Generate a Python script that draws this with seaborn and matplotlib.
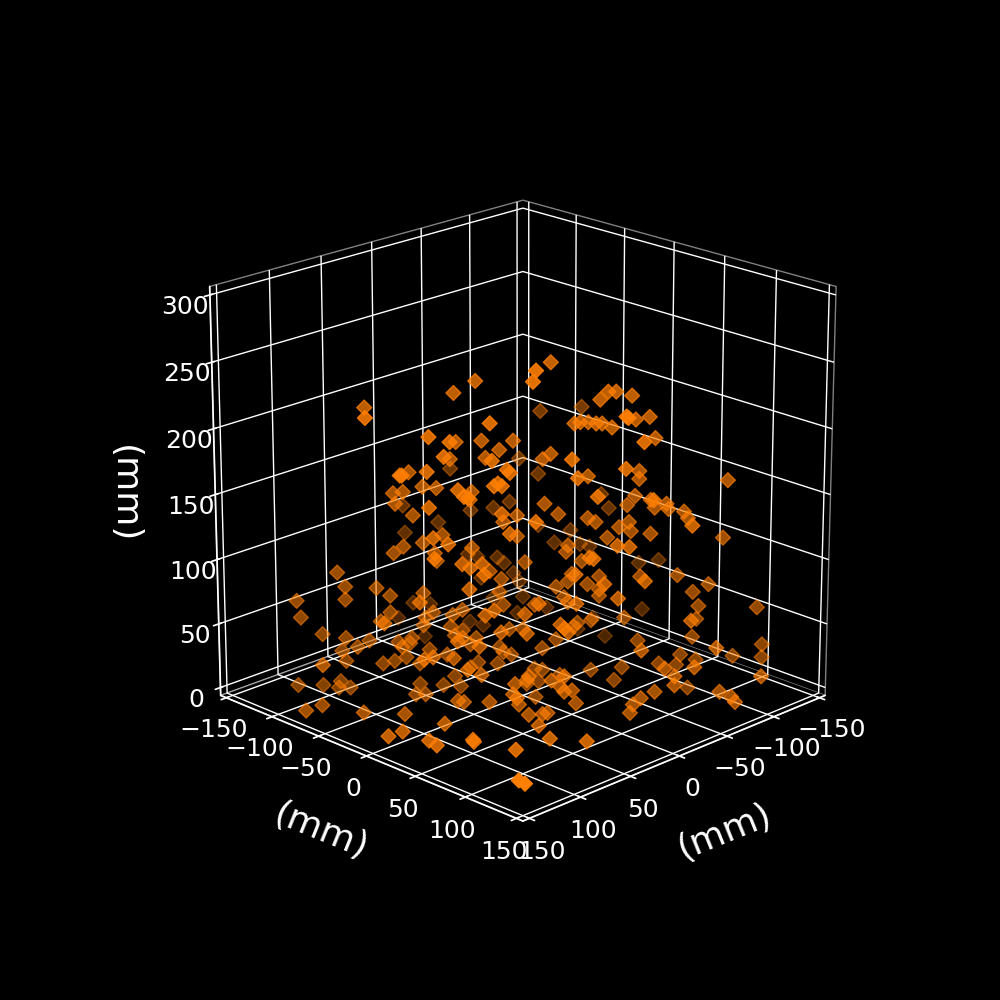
import matplotlib
matplotlib.use('Agg')
import matplotlib.pyplot as plt
import seaborn as sns

# marker positions (mm)
x = [80,109,35,24,47,78,67,34,21,5,12,19,46,70,37,-59,-23,38,37,92,91,58,79,51,44,45,43,41,66,61,
     63,60,58,26,27,65,2,78,56,-34,-46,-54,41,3,10,-18,0,76,41,51,68,37,3,61,66,26,45,75,44,-33,
     -38,-49,51,-52,-1,61,57,17,50,-57,11,-40,95,91,75,51,58,-60,
     -14,24,26,-43,-47,-55,-39,-92,-70,-26,-29,-33,-37,-40,-45,-21,-22,-57,-64,-30,-67,-14,-10,6,-69,3,-33,-21,-59,-59,
     -104,-102,-7,-57,-53,-106,-65,-36,-67,-73,-74,-82,-84,-55,-11,-18,-33,-37,24,-70,-49,-54,-55,-65,-102,-87,-43,-79,-23,-22,
     -92,-97,-17,-23,-30,-3,-5,-123,-134,-25,4,-39,-60,-31,-79,-95,-17,-23,-33,-10,-39,-87,
     116,114,103,91,68,68,73,101,4,-4,83,-13,46,50,51,36,31,12,-47,10,46,50,-59,30,-62,37,-34,-41,42,7,0,29,31,35,31,64,24,27,53,
     91,85,93,79,91,133,64,62,57,58,-10,48,72,66,60,53,81,77,39,66,12,10,6,23,13,59,27,35,52,32,41,53,35,29,116,103,94,95,89,
     64,59,36,34,33,64,61,48,141,126,114,95,33,87,131,118,116,118,95,93,84,120,121,
     -39,-17,-90,-54,-89,-120,-125,-21,-23,4,23,-6,-75,-35,-99,-52,-28,-26,-91,12,10,8,-17,-106,-59,-29,-87,-67,-108,-123,-123,-90,
     -10,-81,-89,-70,-41,-79,-56,-51,-35,-47,-46,-46,-85,-36,-69,-75,-77,-29,-25,-21,4,6,10,12,10,-19,17,-8,-10,-6,28,-2,6,25,21,42,53,38]
y = [-80,-48,-35,-24,14,-16,-6,-34,-21,-5,-12,-19,15,-9,-37,-63,-99,22,24,-31,-30,-58,-17,-51,-44,16,18,20,-66,-61,
     -2,1,3,-26,-27,-65,-124,-16,-56,-89,-77,-68,20,-3,-10,-107,-124,-14,-41,-51,-7,24,-3,-61,-66,-26,-45,-14,-44,-91,
     -86,-76,10,-72,1,0,4,-17,11,-67,-11,-84,-95,-91,-75,-51,4,-64,
     14,37,36,43,47,55,39,-31,-52,26,29,33,37,40,45,82,83,57,64,91,67,14,10,55,-53,58,33,82,59,59,
     104,-20,68,57,53,-16,65,95,67,73,74,82,84,115,11,18,33,37,37,-54,49,54,55,65,102,-37,43,-46,23,22,
     -32,-27,78,84,30,64,66,-1,9,25,57,39,60,92,79,95,17,23,33,72,39,87,
     -116,-114,-103,-91,-68,-68,-73,-39,-128,-120,-21,-111,-46,-50,-51,-36,-31,-12,-78,-10,17,12,-65,32,-62,-37,-90,-83,20,-7,0,33,-31,-35,-31,-2,-24,-27,9,
     -91,-85,-93,-79,-91,-70,-64,-62,-57,-58,-114,-48,-72,-66,-60,-53,-19,-14,-39,-4,-12,-10,-6,-23,-13,3,-27,-35,10,-32,-41,-53,27,33,-116,-103,-94,-95,-89,
     -46,-41,26,28,29,-2,1,14,-80,-79,-48,-25,39,8,-4,-3,22,32,46,43,77,116,123,
     39,79,90,116,89,120,1,21,23,58,39,6,-50,35,-25,52,28,26,-33,50,52,54,17,-19,59,91,87,129,108,123,123,152,
     10,81,89,70,103,79,118,51,35,47,108,108,85,98,131,137,139,91,87,88,58,56,52,50,52,19,46,8,10,6,34,2,19,45,46,58,80,102]
z = [216,223,227,236,219,209,205,190,191,191,184,178,191,194,177,147,139,184,182,180,180,167,183,156,155,172,174,172,151,152,
     169,164,163,152,146,143,110,156,134,106,108,113,151,134,129,96,88,133,119,113,128,136,118,110,105,109,105,117,99,71,
     69,68,113,64,98,113,110,91,105,56,85,52,90,79,78,74,94,49,
     250,258,250,228,228,225,222,187,184,204,205,205,204,204,201,224,223,207,209,205,193,181,177,192,135,178,164,185,168,162,
     161,119,164,149,142,108,146,161,140,143,139,137,132,142,143,135,132,129,145,94,125,129,122,120,117,90,117,80,111,106,
     79,77,127,126,99,118,117,64,66,89,105,87,87,100,88,81,79,83,81,98,77,75,
     68,55,42,69,72,59,52,68,20,32,84,31,59,55,49,57,61,75,36,65,78,74,24,75,37,48,17,14,61,46,46,60,45,41,39,54,39,34,50,
     39,32,29,37,21,36,36,32,39,35,5,30,19,21,24,19,40,42,26,41,32,28,26,20,19,32,16,9,28,1,2,3,21,24,2,2,5,0,0,
     0,0,13,10,5,8,7,7,0,0,0,0,0,0,0,0,0,0,0,0,0,0,0,
     72,87,64,70,54,63,27,71,67,83,83,65,28,53,20,55,51,48,11,67,64,61,38,5,37,47,40,49,25,34,24,27,
     31,26,22,19,33,18,34,16,14,6,27,20,0,15,15,11,7,10,5,0,6,16,15,19,27,10,24,5,14,15,27,3,0,0,0,0,0,0]

n = min(len(x), len(y), len(z))

limit_ticks = [-150, -100, -50, 0, 50, 100, 150]
height_ticks = [0, 50, 100, 150, 200, 250, 300]

sns.set_theme(style='white', rc={'figure.facecolor': 'black', 'axes.facecolor': 'black',
                                 'text.color': 'white', 'xtick.color': 'white', 'ytick.color': 'white',
                                 'axes.labelcolor': 'white', 'axes.edgecolor': 'white',
                                 'grid.color': 'white', 'grid.linewidth': 1.0, 'font.family': 'DejaVu Sans',
                                 'axes3d.automargin': True})
orange = sns.color_palette(['#ff7f00'])[0]

fig = plt.figure(figsize=(10, 10), dpi=100)
ax = fig.add_subplot(projection='3d')
ax.view_init(elev=20, azim=45)
ax.set_box_aspect((1, 1, 1), zoom=0.95)

ax.scatter(x[:n], y[:n], z[:n], marker='D', s=58, color=orange, depthshade=True)

ax.set_xlim(-150, 150)
ax.set_ylim(-150, 150)
ax.set_zlim(0, 300)
ax.set_xticks(limit_ticks)
ax.set_yticks(limit_ticks)
ax.set_zticks(height_ticks)
ax.tick_params(labelsize=18, colors='white')
ax.set_xlabel('(mm)', fontsize=26, labelpad=20, rotation=22)
ax.set_ylabel('(mm)', fontsize=26, labelpad=20, rotation=-22)
ax.set_zlabel('(mm)', fontsize=26, labelpad=22, rotation=-90)

# black panes with the dim outer edge
for axis in [ax.xaxis, ax.yaxis, ax.zaxis]:
    axis.set_pane_color((0, 0, 0, 1))
    axis.pane.set_alpha(None)
    axis.pane.set_facecolor('black')
    axis.pane.set_edgecolor((1, 1, 1, 0.5))
ax.grid(True)

fig.savefig('out.png', facecolor='black')
